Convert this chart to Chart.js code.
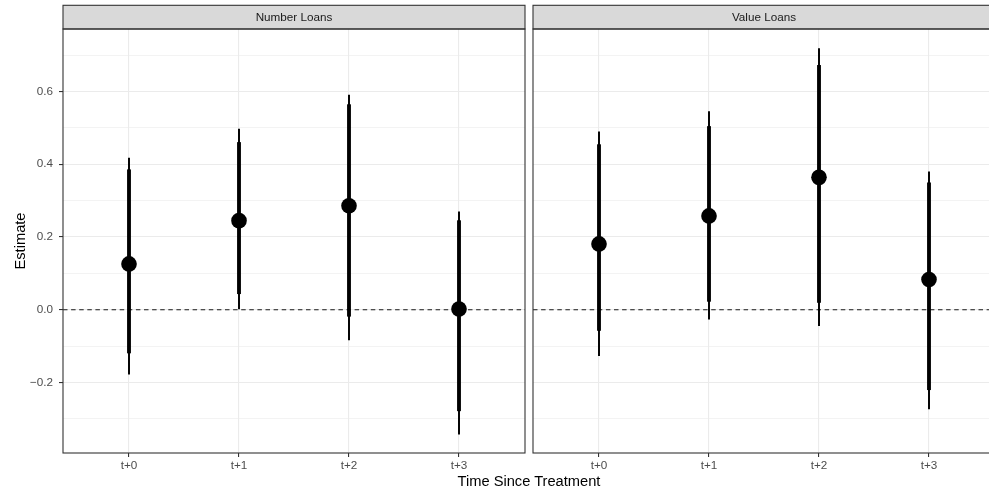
<!DOCTYPE html>
<html>
<head>
<meta charset="utf-8">
<script src="https://cdn.jsdelivr.net/npm/chart.js@4/dist/chart.umd.min.js"></script>
<style>
  html, body { margin: 0; padding: 0; background: #ffffff; }
  #wrap { position: relative; width: 989px; height: 493px; overflow: hidden; background: #ffffff; }
  canvas { position: absolute; top: 0; }
  #xtitle { position: absolute; left: 529px; top: 474px; transform: translateX(-50%);
            font-family: "Liberation Sans", Arial, sans-serif; font-size: 14.67px; line-height: 1;
            color: #000000; white-space: nowrap; }
</style>
</head>
<body>
<div id="wrap">
  <canvas id="c1" width="529" height="493" style="left:0px;width:529px;height:493px"></canvas>
  <canvas id="c2" width="466" height="493" style="left:529px;width:466px;height:493px"></canvas>
  <div id="xtitle">Time Since Treatment</div>
</div>
<script>
// ---- data ----
const categories = ['t+0', 't+1', 't+2', 't+3'];
const panelTitles = ['Number Loans', 'Value Loans'];

const numberEst     = [0.126, 0.245, 0.286, 0.002];
const numberThickLo = [-0.119, 0.044, -0.018, -0.278];
const numberThickHi = [0.385, 0.460, 0.564, 0.245];
const numberThinLo  = [-0.177, 0.002, -0.083, -0.342];
const numberThinHi  = [0.417, 0.497, 0.590, 0.269];

const valueEst     = [0.181, 0.258, 0.364, 0.083];
const valueThickLo = [-0.057, 0.023, 0.020, -0.220];
const valueThickHi = [0.454, 0.504, 0.672, 0.349];
const valueThinLo  = [-0.126, -0.026, -0.044, -0.273];
const valueThinHi  = [0.489, 0.545, 0.718, 0.379];

const yMajorTicks = [-0.2, 0.0, 0.2, 0.4, 0.6];
const yMinorTicks = [-0.3, -0.1, 0.1, 0.3, 0.5, 0.7];
const yRange = [-0.394, 0.772];
const refLine = 0;

// ---- chart ----
Chart.defaults.font.family = '"Liberation Sans", Arial, sans-serif';
Chart.defaults.animation = false;

const isMajor = v => yMajorTicks.some(m => Math.abs(m - v) < 1e-9);
const fmt = v => { const s = Math.abs(v).toFixed(1); return v < -1e-9 ? '\u2212' + s : s; };

function makePanel(canvasId, title, est, thickLo, thickHi, thinLo, thinHi, isLeft) {
  const panelPlugin = {
    id: 'panel_' + canvasId,
    beforeDatasetsDraw(chart) {
      const ca = chart.chartArea, ctx = chart.ctx;
      const y = chart.scales.y.getPixelForValue(refLine);
      ctx.save();
      ctx.strokeStyle = '#1a1a1a';
      ctx.lineWidth = 1.1;
      ctx.setLineDash([4.5, 3.6]);
      ctx.beginPath();
      ctx.moveTo(ca.left, y);
      ctx.lineTo(ca.right, y);
      ctx.stroke();
      ctx.restore();
    },
    afterDraw(chart) {
      const ca = chart.chartArea, ctx = chart.ctx;
      ctx.save();
      const stripTop = 5.3;
      ctx.fillStyle = '#D9D9D9';
      ctx.fillRect(ca.left, stripTop, ca.right - ca.left, ca.top - stripTop);
      ctx.strokeStyle = '#333333';
      ctx.lineWidth = 1.1;
      ctx.strokeRect(ca.left, stripTop, ca.right - ca.left, ca.top - stripTop);
      ctx.fillStyle = '#1A1A1A';
      ctx.font = '11.7px "Liberation Sans", Arial, sans-serif';
      ctx.textAlign = 'center';
      ctx.textBaseline = 'middle';
      ctx.fillText(title, (ca.left + ca.right) / 2, (stripTop + ca.top) / 2 + 0.5);
      ctx.strokeRect(ca.left, ca.top, ca.right - ca.left, ca.bottom - ca.top);
      ctx.restore();
    }
  };

  return new Chart(document.getElementById(canvasId), {
    type: 'bar',
    data: {
      datasets: [
        {
          type: 'bar',
          data: categories.map((c, i) => ({ x: i + 1, y: [thinLo[i], thinHi[i]] })),
          backgroundColor: '#000000',
          borderWidth: 0,
          barThickness: 1.3,
          grouped: false,
          order: 3
        },
        {
          type: 'bar',
          data: categories.map((c, i) => ({ x: i + 1, y: [thickLo[i], thickHi[i]] })),
          backgroundColor: '#000000',
          borderWidth: 0,
          barThickness: 3.2,
          grouped: false,
          order: 2
        },
        {
          type: 'line',
          data: categories.map((c, i) => ({ x: i + 1, y: est[i] })),
          showLine: false,
          pointRadius: 7.8,
          pointBackgroundColor: '#000000',
          pointBorderWidth: 0,
          order: 1
        }
      ]
    },
    options: {
      responsive: false,
      devicePixelRatio: 1,
      animation: false,
      layout: {
        autoPadding: false,
        padding: isLeft ? { top: 29, right: 4, left: 0, bottom: 0 } : { top: 29, right: 0, left: 4, bottom: 0 }
      },
      plugins: { legend: { display: false }, tooltip: { enabled: false }, title: { display: false } },
      scales: {
        x: {
          type: 'linear',
          min: 0.4,
          max: 4.6,
          offset: false,
          afterBuildTicks: s => { s.ticks = categories.map((c, i) => ({ value: i + 1 })); },
          afterFit: s => { s.height = 40; },
          border: { display: false },
          grid: { offset: false, color: '#EBEBEB', lineWidth: 1.1, tickColor: '#333333', tickLength: 4, tickWidth: 1.1 },
          ticks: {
            callback: v => categories[Math.round(v) - 1],
            autoSkip: false, maxRotation: 0, padding: 2,
            color: '#4D4D4D', font: { size: 11.7 }
          }
        },
        y: {
          type: 'linear',
          min: yRange[0],
          max: yRange[1],
          afterBuildTicks: s => {
            s.ticks = yMinorTicks.concat(yMajorTicks).sort((a, b) => a - b).map(v => ({ value: v }));
          },
          afterFit: s => { s.width = isLeft ? 63 : 0; },
          border: { display: false },
          grid: {
            offset: false,
            color: '#EBEBEB',
            lineWidth: ctx => (ctx.tick && isMajor(ctx.tick.value)) ? 1.1 : 0.6,
            drawTicks: isLeft,
            tickColor: ctx => (ctx.tick && isMajor(ctx.tick.value)) ? '#333333' : 'rgba(0,0,0,0)',
            tickLength: 4,
            tickWidth: 1.1
          },
          ticks: {
            display: isLeft,
            autoSkip: false,
            callback: v => isMajor(v) ? fmt(v) : '',
            padding: 6,
            color: '#4D4D4D',
            font: { size: 11.7 }
          },
          title: {
            display: isLeft,
            text: 'Estimate',
            color: '#000000',
            font: { size: 14.67 },
            padding: { top: 12, bottom: 0 }
          }
        }
      }
    },
    plugins: [panelPlugin]
  });
}

makePanel('c1', panelTitles[0], numberEst, numberThickLo, numberThickHi, numberThinLo, numberThinHi, true);
makePanel('c2', panelTitles[1], valueEst, valueThickLo, valueThickHi, valueThinLo, valueThinHi, false);
</script>
</body>
</html>
